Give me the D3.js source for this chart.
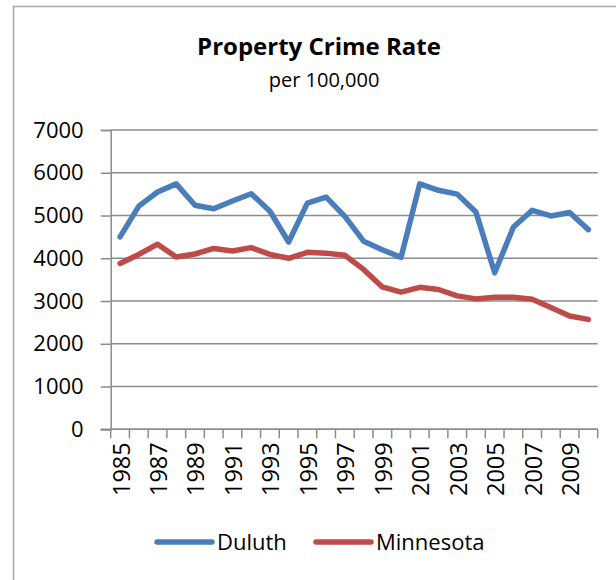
<!DOCTYPE html>
<html>
<head>
<meta charset="utf-8">
<script src="https://cdn.jsdelivr.net/npm/d3@7"></script>
<style>
  body { margin: 0; background: #fff; }
  text { font-family: "Open Sans", sans-serif; fill: #000; }
</style>
</head>
<body>
<script>
var years = d3.range(1985, 2011);
var yearLabels = years.filter(function (y) { return y % 2 === 1; });
var duluth = [4500, 5220, 5550, 5740, 5240, 5160, 5340, 5510, 5100, 4380, 5290, 5430,
    4980, 4400, 4200, 4020, 5740, 5590, 5500, 5080, 3660, 4730, 5120, 4990, 5070, 4670];
var minnesota = [3880, 4090, 4330, 4030, 4100, 4230, 4170, 4250, 4090, 4000, 4140, 4120,
    4070, 3740, 3330, 3210, 3320, 3270, 3120, 3050, 3090, 3090, 3040, 2850, 2650, 2570];
var yTicks = [0, 1000, 2000, 3000, 4000, 5000, 6000, 7000];
var seriesNames = ["Duluth", "Minnesota"];
var seriesColors = ["#4a7ebb", "#be4b48"];

var w = 616, h = 580;
var plotLeft = 110.7, plotRight = 597.7, plotTop = 130, plotBottom = 429.3;

var svg = d3.select("body").append("svg")
    .attr("width", w)
    .attr("height", h);

// chart border
svg.append("rect")
    .attr("x", 13.5).attr("y", 6.5)
    .attr("width", 700).attr("height", 700)
    .attr("fill", "none")
    .attr("stroke", "#a6a6a6")
    .attr("stroke-width", 1.5);

// title
svg.append("text")
    .attr("x", 319).attr("y", 55)
    .attr("text-anchor", "middle")
    .style("font-weight", "bold")
    .style("font-size", "24px")
    .text("Property Crime Rate");
svg.append("text")
    .attr("x", 324).attr("y", 87)
    .attr("text-anchor", "middle")
    .style("font-size", "20px")
    .text("per 100,000");

var xScale = d3.scaleBand()
    .domain(years)
    .range([plotLeft, plotRight]);

var yScale = d3.scaleLinear()
    .domain([0, 7000])
    .range([plotBottom, plotTop]);

// gridlines
svg.append("g")
    .selectAll("line")
    .data(yTicks)
    .enter()
    .append("line")
    .attr("x1", plotLeft).attr("x2", plotRight)
    .attr("y1", function (d) { return yScale(d); })
    .attr("y2", function (d) { return yScale(d); })
    .attr("stroke", "#8c8c8c")
    .attr("stroke-width", 1.5);

// y axis
var yAxis = d3.axisLeft(yScale)
    .tickValues(yTicks)
    .tickFormat(d3.format("d"))
    .tickSize(10)
    .tickPadding(17);
var gy = svg.append("g")
    .attr("transform", "translate(" + plotLeft + ",0)")
    .call(yAxis);
gy.selectAll("path, line").attr("stroke", "#8c8c8c").attr("stroke-width", 1.5);
gy.selectAll("text").style("font-size", "22px").attr("fill", "#000");

// x axis line and category boundary ticks
var boundaries = years.map(function (y) { return xScale(y); }).concat([plotRight]);
svg.append("line")
    .attr("x1", plotLeft - 10).attr("x2", plotRight)
    .attr("y1", plotBottom).attr("y2", plotBottom)
    .attr("stroke", "#8c8c8c").attr("stroke-width", 1.5);
svg.append("g")
    .selectAll("line")
    .data(boundaries)
    .enter()
    .append("line")
    .attr("x1", function (d) { return d; })
    .attr("x2", function (d) { return d; })
    .attr("y1", plotBottom).attr("y2", plotBottom + 9)
    .attr("stroke", "#8c8c8c").attr("stroke-width", 1.5);

// x labels
var xAxis = d3.axisBottom(xScale)
    .tickValues(yearLabels)
    .tickSize(0);
var gx = svg.append("g")
    .attr("transform", "translate(0," + plotBottom + ")")
    .call(xAxis);
gx.select(".domain").remove();
gx.selectAll("text")
    .style("font-size", "23.5px")
    .attr("fill", "#000")
    .attr("text-anchor", "end")
    .attr("transform", "rotate(-90)")
    .attr("x", -13)
    .attr("y", 1)
    .attr("dy", "0.36em");

// lines
var line = d3.line()
    .x(function (d, i) { return xScale(years[i]) + xScale.bandwidth() / 2; })
    .y(function (d) { return yScale(d); });

[duluth, minnesota].forEach(function (s, i) {
    svg.append("path")
        .datum(s)
        .attr("fill", "none")
        .attr("stroke", seriesColors[i])
        .attr("stroke-width", 5.5)
        .attr("stroke-linejoin", "round")
        .attr("stroke-linecap", "round")
        .attr("d", line);
});

// legend
var legendX = [157, 316];
var legend = svg.append("g");
seriesNames.forEach(function (name, i) {
    legend.append("line")
        .attr("x1", legendX[i]).attr("x2", legendX[i] + 55)
        .attr("y1", 542).attr("y2", 542)
        .attr("stroke", seriesColors[i])
        .attr("stroke-width", 5.5)
        .attr("stroke-linecap", "round");
    legend.append("text")
        .attr("x", legendX[i] + 60).attr("y", 550)
        .style("font-size", "22px")
        .text(name);
});
</script>
</body>
</html>
